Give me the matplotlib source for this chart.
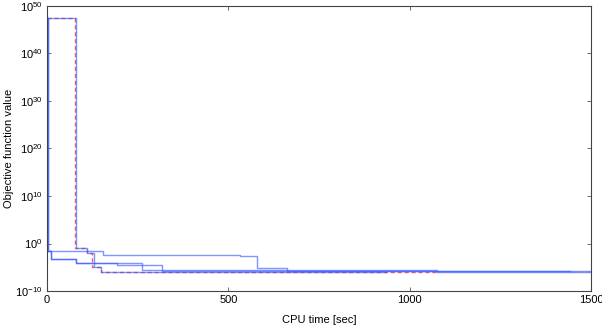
import numpy as np
import matplotlib
matplotlib.use("Agg")
import matplotlib.pyplot as plt

plt.rcParams['font.family'] = ['Liberation Sans', 'DejaVu Sans']
plt.rcParams['mathtext.fontset'] = 'custom'
plt.rcParams['mathtext.rm'] = 'Liberation Sans'
plt.rcParams['mathtext.it'] = 'Liberation Sans:italic'
plt.rcParams['mathtext.bf'] = 'Liberation Sans:bold'

# Step-wise runs: times (sec) and log10 objective values
red_t = [0, 77, 110, 125, 149, 1075]
red_v = [47.5, -1.0, -1.9, -4.9, -5.95, -5.95]

b1_t = [0, 79, 110, 130, 149, 935]
b1_v = [47.5, -1.0, -1.9, -4.9, -5.95, -5.95]

b2_t = [0, 3, 155, 532, 578, 663, 1442]
b2_v = [47.5, -1.52, -2.4, -2.55, -5.2, -5.8, -5.8]

b3_t = [0, 2, 12, 79, 261, 1075, 1500]
b3_v = [47.5, -1.52, -3.33, -4.0, -5.6, -5.95, -5.95]

b4_t = [0, 3, 12, 79, 192, 316, 1500]
b4_v = [-1.5, -1.5, -3.33, -4.05, -4.5, -5.85, -5.85]

blue_runs = [(b1_t, b1_v), (b2_t, b2_v), (b3_t, b3_v), (b4_t, b4_v)]

fig = plt.figure(figsize=(6.02, 3.27), dpi=100)
ax = fig.add_axes([0.078, 0.110, 0.904, 0.872])

ax.step(red_t, np.power(10.0, red_v), where='post', color='#e8505a',
        linestyle=(0, (3, 2)), linewidth=1.0, alpha=0.9)
for t, v in blue_runs:
    ax.step(t, np.power(10.0, v), where='post', color='#3a5cff',
            linewidth=1.0, alpha=0.65)

ax.set_yscale('log')
ax.set_xlim(0, 1500)
ax.set_ylim(1e-10, 1e50)
ax.set_yticks([10.0**k for k in range(-10, 51, 10)])
ax.set_yticklabels([r'$10^{%d}$' % k for k in range(-10, 51, 10)])
ax.minorticks_off()
ax.set_xticks([0, 500, 1000, 1500])
ax.tick_params(direction='in', length=3, width=0.6, color='#555555',
               labelsize=8, top=True, right=True, pad=3)
for s in ax.spines.values():
    s.set_color('#444444')
    s.set_linewidth(0.8)
ax.set_xlabel('CPU time [sec]', fontsize=8, labelpad=7)
ax.set_ylabel('Objective function value', fontsize=8, labelpad=1)

fig.savefig('out.png', dpi=100)
